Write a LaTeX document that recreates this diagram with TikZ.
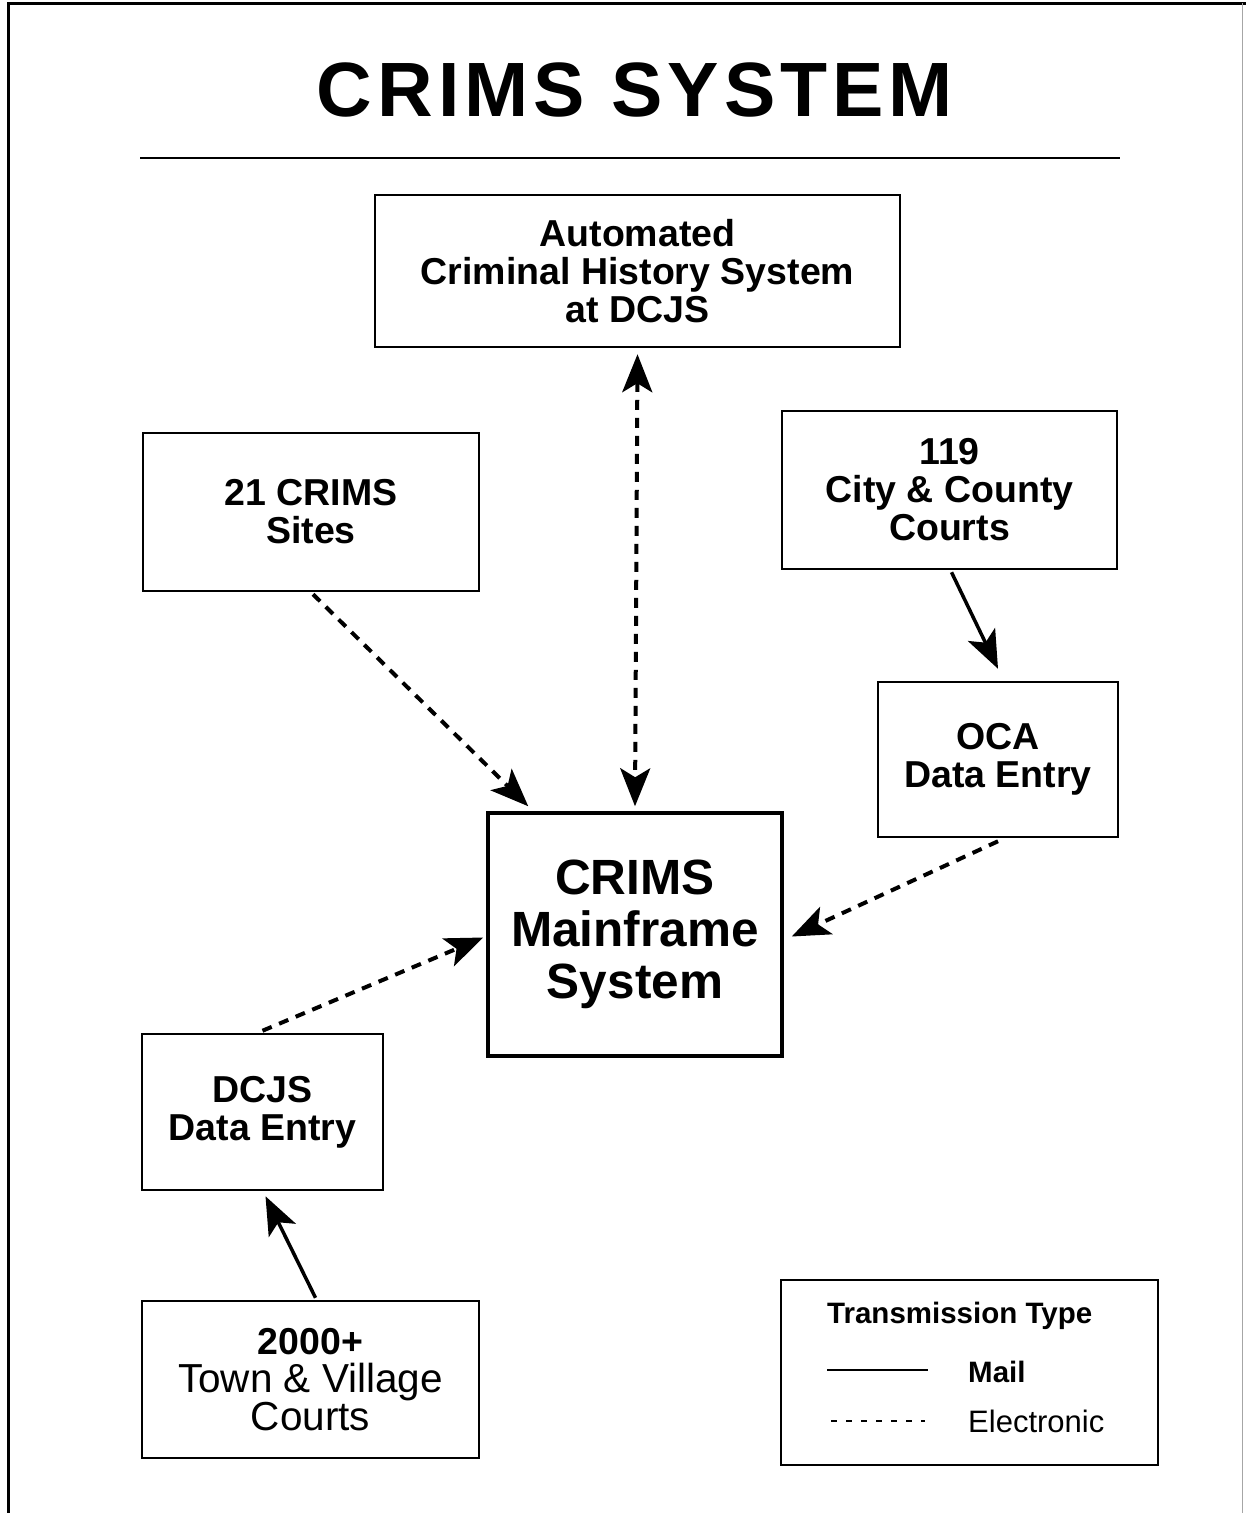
\documentclass[tikz,border=0pt]{standalone}
\usepackage{fontspec}
\setmainfont{Liberation Sans}
\usetikzlibrary{arrows.meta,calc}
\tikzset{
  box/.style={draw=black, line width=2.5pt, rectangle, align=center, inner sep=0pt,
    font=\fontsize{37.5}{38}\selectfont\bfseries},
  mainbox/.style={box, line width=3.5pt, font=\fontsize{49.5}{52}\selectfont\bfseries},
  tip/.tip={Stealth[length=38pt,width=30pt,inset=9pt]},
  elec/.style={line width=4pt, dash pattern=on 10pt off 8pt, -tip},
  elecboth/.style={elec, tip-tip},
  mail/.style={line width=3.5pt, -tip},
  legtext/.style={anchor=west, inner sep=0pt, font=\fontsize{29.5}{30}\selectfont\bfseries}
}
\begin{document}
\begin{tikzpicture}[x=1pt,y=-1pt]
\useasboundingbox (0,0) rectangle (1246,1513);
% frame
\draw[line width=3pt] (8,1513) -- (8,3) -- (1246,3);
\draw[line width=1pt, black!35] (1242,3) -- (1242,1513);
% title
\node (title) at (635,90) {\fontsize{77}{80}\selectfont\bfseries\addfontfeature{LetterSpace=6.5}CRIMS SYSTEM};
\coordinate (ul1) at (140,158);
\coordinate (ul2) at (1120,158);
\draw[line width=2.5pt] (ul1) -- (ul2);
% boxes
\node[box, minimum width=525pt, minimum height=152pt] (achs) at (637.5,271)
  {Automated\\Criminal History System\\at DCJS};
\node[box, minimum width=336pt, minimum height=158pt] (sites) at (311,512)
  {21 CRIMS\\Sites};
\node[box, minimum width=335pt, minimum height=158pt] (cc) at (949.5,490)
  {119\\City \& County\\Courts};
\node[box, minimum width=240pt, minimum height=155pt] (oca) at (998,759.5)
  {OCA\\Data Entry};
\node[mainbox, minimum width=294pt, minimum height=243pt] (main) at (635,934.5)
  {CRIMS\\Mainframe\\System};
\node[box, minimum width=241pt, minimum height=156pt] (dcjs) at (262.5,1112)
  {DCJS\\Data Entry};
\node[box, minimum width=337pt, minimum height=157pt] (town) at (310.5,1379.5)
  {2000+\\{\fontsize{40.5}{38}\selectfont\mdseries Town \& Village}\\{\fontsize{40.5}{38}\selectfont\mdseries Courts}};
% legend
\node[draw=black, line width=2.5pt, minimum width=377pt, minimum height=185pt, inner sep=0pt] (legend) at (969.5,1372.5) {};
\node[legtext] (lt) at (827,1316) {Transmission Type};
\node[legtext] (lmail) at (968,1372) {Mail};
\node[legtext, font=\fontsize{31}{31}\selectfont] (lelec) at (968,1421) {Electronic};
\coordinate (m1) at (827,1370);
\coordinate (m2) at (928,1370);
\coordinate (e1) at (831,1421);
\coordinate (e2) at (925,1421);
\draw[line width=2pt] (m1) -- (m2);
\draw[line width=2pt, dash pattern=on 6pt off 9pt] (e1) -- (e2);
% connectors
\draw[elecboth] ([yshift=-6pt]achs.south) -- ([yshift=5pt]main.north);
\draw[elec] ([xshift=2pt,yshift=-2pt]sites.south) -- ([xshift=42pt,yshift=5pt]main.north west);
\draw[mail] ([xshift=2pt,yshift=-2pt]cc.south) -- ([yshift=12pt]oca.north);
\draw[elec] ([yshift=-3pt]oca.south) -- ([xshift=8pt,yshift=-2pt]main.east);
\draw[elec] ([yshift=2pt]dcjs.north) -- ([xshift=-3pt,yshift=-3pt]main.west);
\draw[mail] ([xshift=5pt,yshift=2pt]town.north) -- ([xshift=3pt,yshift=-5pt]dcjs.south);
\end{tikzpicture}
\end{document}
